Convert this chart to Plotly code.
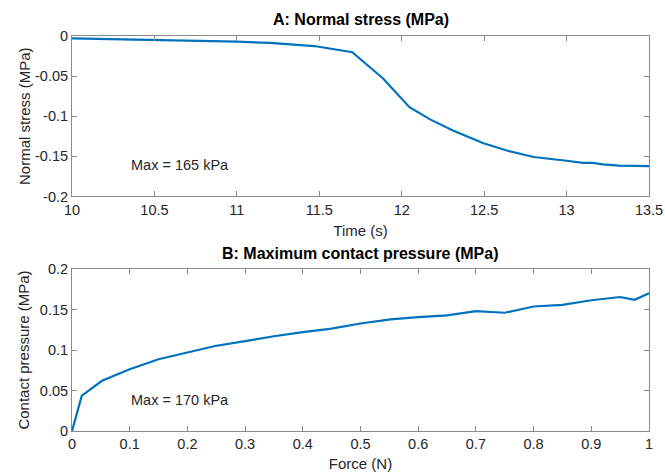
import plotly.graph_objects as go

# Panel A: normal stress vs time
time_s = [10.0, 10.5, 11.0, 11.2, 11.38, 11.47, 11.70, 11.887, 12.047, 12.172, 12.314,
          12.496, 12.638, 12.8, 13.0, 13.1, 13.16, 13.22, 13.32, 13.5]
normal_stress = [-0.0029, -0.0045, -0.007, -0.0086, -0.011, -0.0125, -0.0202, -0.0529, -0.0888,
                 -0.1039, -0.118, -0.1337, -0.1427, -0.1508, -0.1555, -0.158, -0.158, -0.160,
                 -0.1615, -0.1622]

# Panel B: max contact pressure vs force
force_n = [0.0, 0.017, 0.052, 0.1, 0.15, 0.2, 0.248, 0.3, 0.35, 0.4, 0.447, 0.5, 0.552, 0.6,
           0.65, 0.7, 0.75, 0.8, 0.85, 0.9, 0.95, 0.975, 1.0]
contact_pressure = [0.0, 0.0437, 0.062, 0.0763, 0.0886, 0.0967, 0.105, 0.111, 0.117, 0.122, 0.126,
                    0.1327, 0.1378, 0.1407, 0.1427, 0.148, 0.146, 0.1537, 0.1557, 0.1614, 0.1654,
                    0.162, 0.170]

x_ticks_a = [10, 10.5, 11, 11.5, 12, 12.5, 13, 13.5]
x_ticks_a_text = ["10", "10.5", "11", "11.5", "12", "12.5", "13", "13.5"]
y_ticks_a = [-0.2, -0.15, -0.1, -0.05, 0]
y_ticks_a_text = ["-0.2", "-0.15", "-0.1", "-0.05", "0"]
x_ticks_b = [0, 0.1, 0.2, 0.3, 0.4, 0.5, 0.6, 0.7, 0.8, 0.9, 1]
x_ticks_b_text = ["0", "0.1", "0.2", "0.3", "0.4", "0.5", "0.6", "0.7", "0.8", "0.9", "1"]
y_ticks_b = [0, 0.05, 0.1, 0.15, 0.2]
y_ticks_b_text = ["0", "0.05", "0.1", "0.15", "0.2"]

LINE = "#0072BD"
AX = "#8a8a8a"
TXT = "#262626"
FONT = "Liberation Sans, Arial, sans-serif"

fig = go.Figure()
fig.add_trace(go.Scatter(x=time_s, y=normal_stress, mode="lines",
                         line=dict(color=LINE, width=2.2), xaxis="x", yaxis="y"))
fig.add_trace(go.Scatter(x=force_n, y=contact_pressure, mode="lines",
                         line=dict(color=LINE, width=2.2), xaxis="x2", yaxis="y2"))

common = dict(showline=True, linecolor=AX, linewidth=1, mirror="ticks", ticks="inside",
              ticklen=5, tickcolor=AX, showgrid=False, zeroline=False, automargin=False,
              tickfont=dict(family=FONT, size=14.5, color=TXT))

fig.update_layout(
    width=665, height=476,
    margin=dict(l=72, r=15.5, t=36, b=45),
    paper_bgcolor="white", plot_bgcolor="white",
    showlegend=False,
    font=dict(family=FONT, color=TXT),
    xaxis=dict(domain=[0, 1], anchor="y", range=[10, 13.5], tickvals=x_ticks_a,
               ticktext=x_ticks_a_text,
               title=dict(text="Time (s)", font=dict(size=15, family=FONT, color=TXT), standoff=8),
               **common),
    yaxis=dict(domain=[0.5937, 1], anchor="x", range=[-0.2, 0], tickvals=y_ticks_a,
               ticktext=y_ticks_a_text,
               title=dict(text="Normal stress (MPa)", font=dict(size=15, family=FONT, color=TXT), standoff=0),
               **common),
    xaxis2=dict(domain=[0, 1], anchor="y2", range=[0, 1], tickvals=x_ticks_b,
                ticktext=x_ticks_b_text,
                title=dict(text="Force (N)", font=dict(size=15, family=FONT, color=TXT), standoff=7),
                **common),
    yaxis2=dict(domain=[0, 0.4101], anchor="x2", range=[0, 0.2], tickvals=y_ticks_b,
                ticktext=y_ticks_b_text,
                title=dict(text="Contact pressure (MPa)", font=dict(size=15, family=FONT, color=TXT), standoff=6),
                **common),
    annotations=[
        dict(text="<b>A: Normal stress (MPa)</b>", xref="paper", yref="paper", x=0.5, y=1.0,
             yanchor="bottom", xanchor="center", yshift=6, showarrow=False,
             font=dict(size=16, family=FONT, color="black")),
        dict(text="<b>B: Maximum contact pressure (MPa)</b>", xref="paper", yref="paper", x=0.5,
             y=0.4101, yanchor="bottom", xanchor="center", yshift=5, showarrow=False,
             font=dict(size=16, family=FONT, color="black")),
        dict(text="Max = 165 kPa", xref="x", yref="y", x=10.347, y=-0.161, xanchor="left",
             yanchor="middle", showarrow=False, font=dict(size=14.5, family=FONT, color=TXT)),
        dict(text="Max = 170 kPa", xref="x2", yref="y2", x=0.099, y=0.0388, xanchor="left",
             yanchor="middle", showarrow=False, font=dict(size=14.5, family=FONT, color=TXT)),
    ],
)

fig.write_html("out.html", config={"displayModeBar": False},
               post_script="document.body.style.margin='0';")
